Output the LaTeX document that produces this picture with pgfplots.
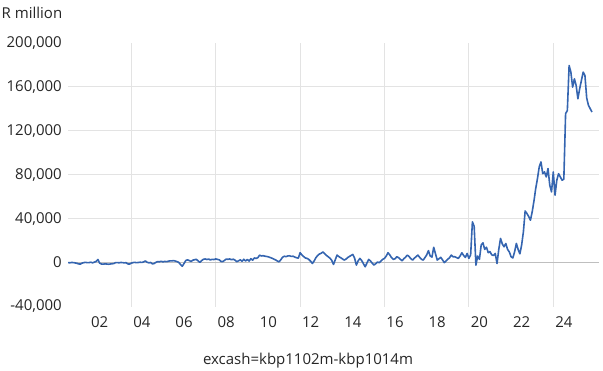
\documentclass[border=0pt]{standalone}
\usepackage{fontspec}
\setmainfont{Open Sans}
\usepackage{pgfplots}
\pgfplotsset{compat=1.18}
\definecolor{serie}{HTML}{3565B0}
\definecolor{gridc}{HTML}{E3E3E3}
\definecolor{zeroc}{HTML}{BFBFBF}
\definecolor{txt}{HTML}{262626}
\begin{document}
\begin{tikzpicture}[font=\fontsize{15bp}{18bp}\selectfont, text=txt]
\useasboundingbox (0,0) rectangle (603bp,371bp);
\begin{axis}[
  at={(68bp,64.5bp)}, anchor=south west,
  scale only axis, width=531bp, height=263.5bp,
  xmin=0, xmax=302, ymin=-40000, ymax=200000,
  axis line style={draw=none},
  major tick length=0pt,
  xtick={18,42,66,90,114,138,162,186,210,234,258,282},
  xticklabels={02,04,06,08,10,12,14,16,18,20,22,24},
  ytick={-40000,0,40000,80000,120000,160000,200000},
  extra x ticks={36,84,132,180,228,276}, extra x tick labels={},
  extra x tick style={grid=major},
  extra y ticks={40000,80000,120000,160000}, extra y tick labels={},
  extra y tick style={grid=major},
  major grid style={draw=gridc, line width=1bp},
  scaled y ticks=false,
  yticklabel style={anchor=east, inner sep=0pt, xshift=-6bp,
    /pgf/number format/fixed, /pgf/number format/1000 sep={,},
    /pgf/number format/assume math mode=true},
  xticklabel style={anchor=base, inner sep=0pt, yshift=-21bp},
]
\draw[zeroc, line width=1.3bp] (axis cs:0,0) -- (axis cs:302,0);
\addplot[serie, line width=1.6bp, mark=none, line join=round] coordinates {
(0,0) (1,-200) (2,100) (3,0) (4,-300) (5,-600) (6,-1200) (7,-1400) (8,-500) (9,0) (10,200) (11,-100)
(12,0) (13,300) (14,-200) (15,400) (16,1000) (17,2800) (18,-500) (19,-1300) (20,-1400) (21,-1200) (22,-1300) (23,-1500)
(24,-1300) (25,-1100) (26,-900) (27,-100) (28,0) (29,-200) (30,100) (31,0) (32,-300) (33,-100) (34,-1200) (35,-1400)
(36,-500) (37,0) (38,200) (39,-100) (40,100) (41,300) (42,200) (43,600) (44,1500) (45,300) (46,-200) (47,100)
(48,-1200) (49,-800) (50,200) (51,900) (52,700) (53,1200) (54,600) (55,1100) (56,800) (57,1200) (58,1600) (59,1500)
(60,1800) (61,1400) (62,900) (63,200) (64,-1800) (65,-3300) (66,-800) (67,1900) (68,2500) (69,1800) (70,1000) (71,2200)
(72,2600) (73,3000) (74,1500) (75,200) (76,1800) (77,3000) (78,3300) (79,2800) (80,3200) (81,2400) (82,3000) (83,2700)
(84,3400) (85,2900) (86,2500) (87,1000) (88,900) (89,2000) (90,3200) (91,3000) (92,3300) (93,2600) (94,3100) (95,2200)
(96,800) (97,1600) (98,2500) (99,1200) (100,3000) (101,1500) (102,2800) (103,1400) (104,3500) (105,2200) (106,4200) (107,3800)
(108,4500) (109,6800) (110,6000) (111,6300) (112,5800) (113,5600) (114,5200) (115,4600) (116,4000) (117,3200) (118,2500) (119,1500)
(120,700) (121,2500) (122,4800) (123,5800) (124,5400) (125,6000) (126,6200) (127,5600) (128,5800) (129,5000) (130,4400) (131,4000)
(132,9000) (133,7000) (134,5500) (135,4200) (136,3800) (137,2800) (138,1200) (139,-800) (140,1500) (141,4500) (142,6500) (143,7800)
(144,8500) (145,9700) (146,8000) (147,6500) (148,5300) (149,4000) (150,2000) (151,-1700) (152,2500) (153,6800) (154,5500) (155,4500)
(156,3500) (157,2300) (158,3000) (159,4500) (160,5500) (161,6500) (162,7400) (163,4000) (164,-2300) (165,1500) (166,3800) (167,2000)
(168,-1000) (169,-3800) (170,-500) (171,2900) (172,1500) (173,-500) (174,-2300) (175,-1000) (176,500) (177,-150) (178,1500) (179,3000)
(180,3800) (181,6000) (182,9000) (183,7000) (184,4500) (185,2900) (186,3500) (187,5300) (188,4500) (189,3000) (190,1700) (191,3500)
(192,5000) (193,6800) (194,5500) (195,3500) (196,2300) (197,4000) (198,5500) (199,6800) (200,4800) (201,3000) (202,2300) (203,4500)
(204,7000) (205,10900) (206,6000) (207,5000) (208,13900) (209,8000) (210,2300) (211,3500) (212,4800) (213,2500) (214,0) (215,1500)
(216,3000) (217,4500) (218,6800) (219,5300) (220,5300) (221,4500) (222,3800) (223,6000) (224,8900) (225,6500) (226,4700) (227,8300)
(228,3800) (229,7000) (230,37100) (231,33000) (232,-2300) (233,6000) (234,3000) (235,16000) (236,18000) (237,12000) (238,14000) (239,9000)
(240,10000) (241,7000) (242,6500) (243,8300) (244,-800) (245,12000) (246,22000) (247,17000) (248,14400) (249,17400) (250,12000) (251,9700)
(252,5300) (253,4200) (254,9800) (255,17400) (256,12000) (257,8000) (258,16000) (259,28000) (260,47000) (261,44700) (262,42000) (263,38600)
(264,46200) (265,56000) (266,67400) (267,76500) (268,87100) (269,91700) (270,81000) (271,82600) (272,78000) (273,85600) (274,70500) (275,64400)
(276,82600) (277,61400) (278,75000) (279,81000) (280,78000) (281,75000) (282,76000) (283,135600) (284,138600) (285,179500) (286,173500) (287,159800)
(288,167400) (289,161300) (290,149200) (291,158300) (292,165900) (293,173500) (294,170400) (295,150000) (296,143200) (297,140200) (298,137100)
};
\end{axis}
\node[anchor=base west, inner sep=0pt] at (1.5bp,352.7bp) {R million};
\node[anchor=base, inner sep=0pt] at (308bp,6.5bp) {excash=kbp1102m-kbp1014m};
\end{tikzpicture}
\end{document}
